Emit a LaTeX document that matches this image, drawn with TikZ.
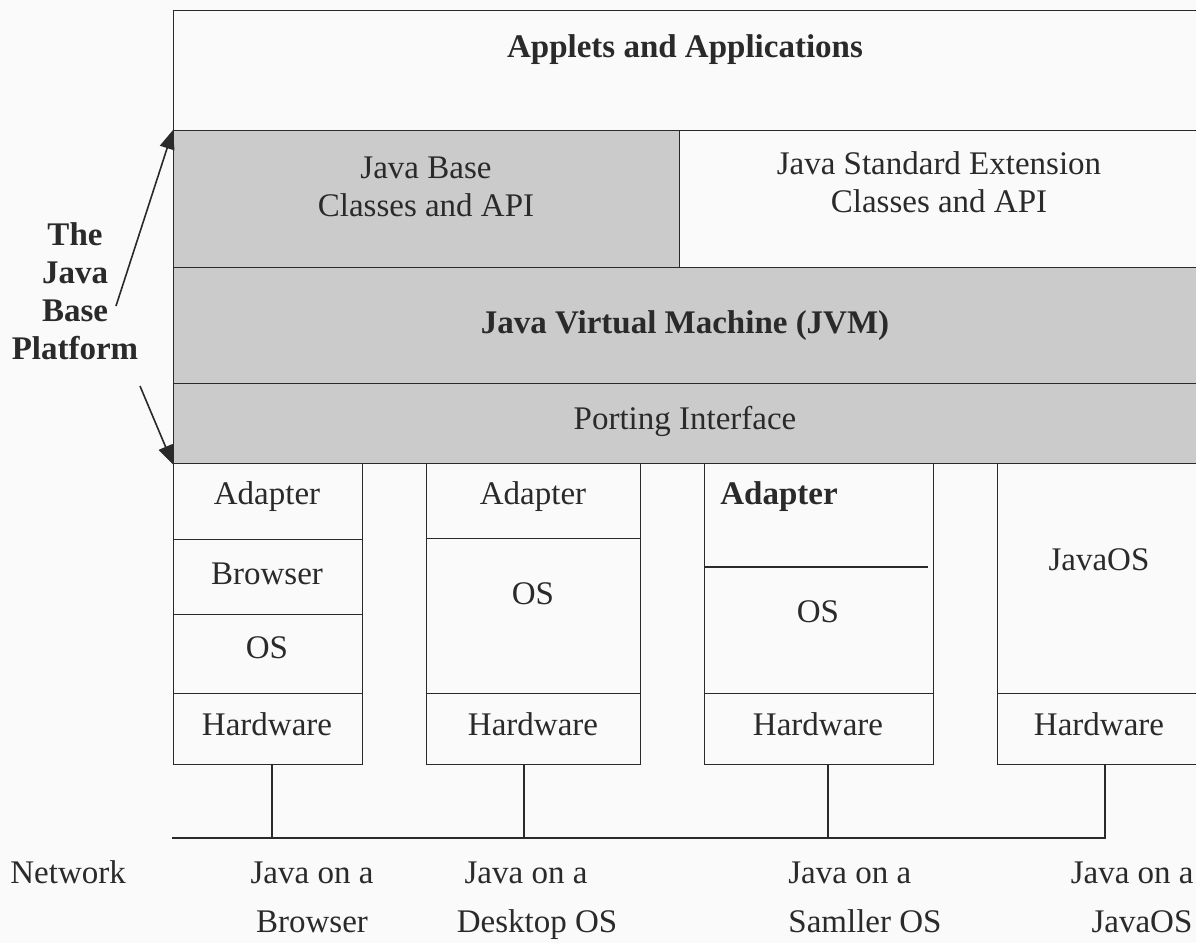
\documentclass[tikz,border=0pt]{standalone}
\usepackage{fontspec}
\setmainfont{Liberation Serif}
\usetikzlibrary{arrows.meta}
\definecolor{shade}{HTML}{CBCBCB}
\definecolor{ink}{HTML}{2A2A2A}
\definecolor{paper}{HTML}{FAFAFA}
\begin{document}
\begin{tikzpicture}[x=0.5pt,y=-0.5pt,
  cell/.style={draw=ink, line width=0.7pt, inner sep=0pt, anchor=north west},
  lbl/.style={font=\fontsize{16.5}{19}\selectfont, text=ink, inner sep=0pt, align=center},
  blbl/.style={lbl, font=\fontsize{16.5}{19}\selectfont\bfseries},
  wire/.style={draw=ink, line width=0.7pt},
  pointer/.style={draw=ink, line width=0.8pt, -{Triangle[length=9.5pt,width=7.5pt]}}]
\fill[paper] (0,0) rectangle (1196,943);
\useasboundingbox (0,0) rectangle (1196,943);
\clip (0,0) rectangle (1196,943);

% upper stack
\node[cell, minimum width=513.5pt, minimum height=60pt] (apps) at (173,10) {};
\node[cell, fill=shade, minimum width=253pt, minimum height=68.5pt] (base) at (173,130) {};
\node[cell, minimum width=260.5pt, minimum height=68.5pt] (ext) at (679,130) {};
\node[cell, fill=shade, minimum width=513.5pt, minimum height=58pt] (jvm) at (173,267) {};
\node[cell, fill=shade, minimum width=513.5pt, minimum height=40pt] (port) at (173,383) {};

\node[blbl] (tapps) at (685,50) {Applets and Applications};
\node[lbl] (tbase) at (426,187) {Java Base\\Classes and API};
\node[lbl] (text) at (939,182) {Java Standard Extension\\Classes and API};
\node[blbl] (tjvm) at (685,326) {Java Virtual Machine (JVM)};
\node[lbl] (tport) at (685,421) {Porting Interface};

% box 1: browser
\node[cell, minimum width=94.5pt, minimum height=38pt] (a1) at (173,463) {};
\node[cell, minimum width=94.5pt, minimum height=37.5pt] (b1) at (173,539) {};
\node[cell, minimum width=94.5pt, minimum height=39.5pt] (o1) at (173,614) {};
\node[cell, minimum width=94.5pt, minimum height=35.5pt] (hw1) at (173,693) {};
\node[lbl] (ta1) at (267,497) {Adapter};
\node[lbl] (tb1) at (267,574) {Browser};
\node[lbl] (to1) at (267,648) {OS};
\node[lbl] (th1) at (267,724) {Hardware};

% box 2: desktop OS
\node[cell, minimum width=107pt, minimum height=37.5pt] (a2) at (426,463) {};
\node[cell, minimum width=107pt, minimum height=77.5pt] (o2) at (426,538) {};
\node[cell, minimum width=107pt, minimum height=35.5pt] (hw2) at (426,693) {};
\node[lbl] (ta2) at (533,497) {Adapter};
\node[lbl] (to2) at (533,594) {OS};
\node[lbl] (th2) at (533,724) {Hardware};

% box 3: smaller OS
\node[cell, minimum width=114.5pt, minimum height=115pt] (o3) at (704,463) {};
\node[cell, minimum width=114.5pt, minimum height=35.5pt] (hw3) at (704,693) {};
\coordinate (d3r) at (928,567);
\draw[wire] (o3.west |- d3r) -- (d3r);
\node[blbl, anchor=west] (ta3) at (720,497) {Adapter};
\node[lbl] (to3) at (818,612) {OS};
\node[lbl] (th3) at (818,724) {Hardware};

% box 4: JavaOS
\node[cell, minimum width=101.5pt, minimum height=115pt] (j4) at (997,463) {};
\node[cell, minimum width=101.5pt, minimum height=35.5pt] (hw4) at (997,693) {};
\node[lbl] (tj4) at (1099,560) {JavaOS};
\node[lbl] (th4) at (1099,724) {Hardware};

% network
\coordinate (netL) at (172,838);
\coordinate (n1) at (272,838);
\coordinate (n2) at (524,838);
\coordinate (n3) at (828,838);
\coordinate (n4) at (1105,838);
\draw[wire] (netL) -- (n4) -- (n4 |- hw4.south);
\draw[wire] (n1) -- (n1 |- hw1.south);
\draw[wire] (n2) -- (n2 |- hw2.south);
\draw[wire] (n3) -- (n3 |- hw3.south);

\node[lbl, anchor=base west] (tnet) at (10,883) {Network};
\node[lbl, anchor=base] (q1a) at (312,883) {Java on a};
\node[lbl, anchor=base] (q1b) at (312,932) {Browser};
\node[lbl, anchor=base] (q2a) at (526,883) {Java on a};
\node[lbl, anchor=base] (q2b) at (537,932) {Desktop OS};
\node[lbl, anchor=base west] (q3a) at (788,883) {Java on a};
\node[lbl, anchor=base west] (q3b) at (788,932) {Samller OS};
\node[lbl, anchor=base east] (q4a) at (1194,883) {Java on a};
\node[lbl, anchor=base] (q4b) at (1142,932) {JavaOS};

% platform label and arrows
\node[blbl] (plat) at (75,291) {The\\Java\\Base\\Platform};
\coordinate (p1) at (116,306);
\coordinate (p2) at (140,386);
\draw[pointer] (p1) -- (base.north west);
\draw[pointer] (p2) -- (port.south west);
\end{tikzpicture}
\end{document}
